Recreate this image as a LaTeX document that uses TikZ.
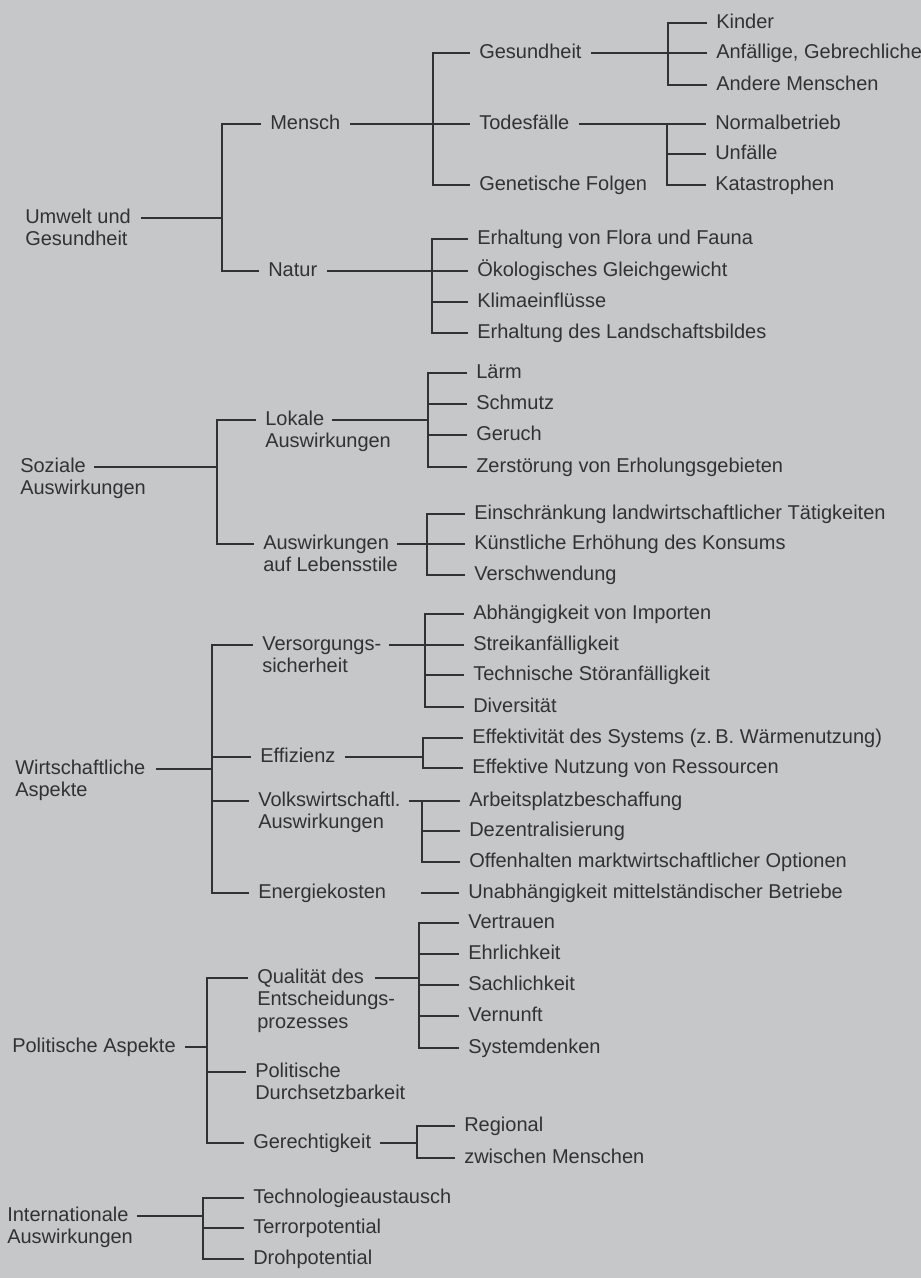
\documentclass[tikz,border=0pt]{standalone}
\usepackage{fontspec}
\setmainfont{Liberation Sans}
\definecolor{paper}{RGB}{197,199,201}
\definecolor{ink}{RGB}{50,50,52}
\newcommand{\lblfont}{\fontsize{15}{17}\selectfont}
\begin{document}
\begin{tikzpicture}[x=0.75pt,y=-0.75pt,
  lbl/.style={font=\lblfont, text=ink, inner xsep=7.5pt, inner ysep=0pt, text height=10.8pt, text depth=3pt, anchor=base west},
  ml/.style={font=\lblfont, text=ink, inner xsep=7.5pt, inner ysep=0pt, align=left, anchor=base west},
  wire/.style={draw=ink, line width=1.35pt, line cap=rect}]
\fill[paper] (0,0) rectangle (921,1278);
\useasboundingbox (0,0) rectangle (921,1278);

% ---------- roots (multi-line nodes: base = baseline of last line)
\node[ml] (umw) at (15,245.67) {Umwelt und\\Gesundheit};
\node[ml] (soz) at (10,494.67) {Soziale\\Auswirkungen};
\node[ml] (wir) at (5,796.67) {Wirtschaftliche\\Aspekte};
\node[lbl] (pol) at (2,1052) {Politische Aspekte};
\node[ml] (int) at (-3,1243.67) {Internationale\\Auswirkungen};
\coordinate (umwR) at (142,218);
\coordinate (sozR) at (95,467);
\coordinate (wirR) at (157,769);
\coordinate (intR) at (138,1216);

% ---------- level 1
\node[lbl] (mensch) at (260,129) {Mensch};
\node[lbl] (natur) at (258,276) {Natur};
\node[ml] (lokale) at (255,447.67) {Lokale\\Auswirkungen};
\node[ml] (lebens) at (253,571.67) {Auswirkungen\\auf Lebensstile};
\node[ml] (versorg) at (252,672.67) {Versorgungs-\\sicherheit};
\node[lbl] (effiz) at (250,762) {Effizienz};
\node[ml] (volksw) at (248,828.67) {Volkswirtschaftl.\\Auswirkungen};
\node[lbl] (energ) at (248,898) {Energiekosten};
\node[ml] (qual) at (247,1028.33) {Qualität des\\Entscheidungs-\\prozesses};
\node[ml] (polD) at (245,1099.67) {Politische\\Durchsetzbarkeit};
\node[lbl] (gerecht) at (243,1148) {Gerechtigkeit};
\node[lbl] (tech) at (243,1203) {Technologieaustausch};
\node[lbl] (terror) at (243,1233) {Terrorpotential};
\node[lbl] (droh) at (243,1264) {Drohpotential};
\coordinate (lokaleR) at (333,420);
\coordinate (lebensR) at (398,544);
\coordinate (versorgR) at (390,645);
\coordinate (volkswR) at (410,801);
\coordinate (qualR) at (376,978);
\coordinate (polDL) at (245,1072);
\coordinate (eS) at (422,893);

% ---------- level 2
\node[lbl] (ges) at (469,58) {Gesundheit};
\node[lbl] (tod) at (469,129) {Todesfälle};
\node[lbl] (genf) at (469,190) {Genetische Folgen};
\node[lbl] (flora) at (467,244) {Erhaltung von Flora und Fauna};
\node[lbl] (oeko) at (467,276) {Ökologisches Gleichgewicht};
\node[lbl] (klima) at (467,307) {Klimaeinflüsse};
\node[lbl] (land) at (467,338) {Erhaltung des Landschaftsbildes};
\node[lbl] (laerm) at (466,378) {Lärm};
\node[lbl] (schmutz) at (466,409) {Schmutz};
\node[lbl] (geruch) at (466,440) {Geruch};
\node[lbl] (zerst) at (466,472) {Zerstörung von Erholungsgebieten};
\node[lbl] (einschr) at (464,519) {Einschränkung landwirtschaftlicher Tätigkeiten};
\node[lbl] (kuenst) at (464,549) {Künstliche Erhöhung des Konsums};
\node[lbl] (versch) at (464,580) {Verschwendung};
\node[lbl] (abh) at (463,619) {Abhängigkeit von Importen};
\node[lbl] (streik) at (463,650) {Streikanfälligkeit};
\node[lbl] (techn) at (463,680) {Technische Störanfälligkeit};
\node[lbl] (divers) at (463,712) {Diversität};
\node[lbl] (effekt) at (462,743) {Effektivität des Systems (z.\,B. Wärmenutzung)};
\node[lbl] (effN) at (462,773) {Effektive Nutzung von Ressourcen};
\node[lbl] (arbeit) at (459,806) {Arbeitsplatzbeschaffung};
\node[lbl] (dezent) at (459,836) {Dezentralisierung};
\node[lbl] (offen) at (459,867) {Offenhalten marktwirtschaftlicher Optionen};
\node[lbl] (unab) at (458,898) {Unabhängigkeit mittelständischer Betriebe};
\node[lbl] (vertr) at (458,928) {Vertrauen};
\node[lbl] (ehrl) at (458,959) {Ehrlichkeit};
\node[lbl] (sachl) at (458,990) {Sachlichkeit};
\node[lbl] (vern) at (458,1021) {Vernunft};
\node[lbl] (syst) at (458,1053) {Systemdenken};
\node[lbl] (regional) at (454,1131) {Regional};
\node[lbl] (zwischen) at (454,1163) {zwischen Menschen};

% ---------- level 3
\node[lbl] (kinder) at (706,28) {Kinder};
\node[lbl] (anf) at (706,58) {Anfällige, Gebrechliche};
\node[lbl] (andere) at (706,90) {Andere Menschen};
\node[lbl] (normal) at (705,129) {Normalbetrieb};
\node[lbl] (unf) at (705,159) {Unfälle};
\node[lbl] (kata) at (705,190) {Katastrophen};

% ---------- junction columns
\coordinate (J1) at (222,0);
\coordinate (J2) at (217,0);
\coordinate (J3) at (212,0);
\coordinate (J4) at (207,0);
\coordinate (J5) at (203,0);
\coordinate (J6) at (433,0);
\coordinate (J7) at (432,0);
\coordinate (J8) at (428,0);
\coordinate (J9) at (427,0);
\coordinate (J10) at (425,0);
\coordinate (J11) at (423,0);
\coordinate (J12) at (422,0);
\coordinate (J13) at (419,0);
\coordinate (J14) at (417,0);
\coordinate (J15) at (668,0);
\coordinate (J16) at (667,0);

% ---------- Umwelt und Gesundheit
\draw[wire] (umwR) -- (umwR -| J1);
\draw[wire] (J1 |- mensch.west) -- (J1 |- natur.west);
\draw[wire] (J1 |- mensch.west) -- (mensch.west);
\draw[wire] (J1 |- natur.west) -- (natur.west);
% Mensch
\draw[wire] (mensch.east) -- (tod.west);
\draw[wire] (J6 |- ges.west) -- (J6 |- genf.west);
\draw[wire] (J6 |- ges.west) -- (ges.west);
\draw[wire] (J6 |- genf.west) -- (genf.west);
% Gesundheit
\draw[wire] (ges.east) -- (anf.west);
\draw[wire] (J15 |- kinder.west) -- (J15 |- andere.west);
\draw[wire] (J15 |- kinder.west) -- (kinder.west);
\draw[wire] (J15 |- andere.west) -- (andere.west);
% Todesfaelle
\draw[wire] (tod.east) -- (normal.west);
\draw[wire] (J16 |- normal.west) -- (J16 |- kata.west);
\draw[wire] (J16 |- unf.west) -- (unf.west);
\draw[wire] (J16 |- kata.west) -- (kata.west);
% Natur
\draw[wire] (natur.east) -- (oeko.west);
\draw[wire] (J7 |- flora.west) -- (J7 |- land.west);
\draw[wire] (J7 |- flora.west) -- (flora.west);
\draw[wire] (J7 |- klima.west) -- (klima.west);
\draw[wire] (J7 |- land.west) -- (land.west);

% ---------- Soziale Auswirkungen
\draw[wire] (sozR) -- (sozR -| J2);
\draw[wire] (J2 |- lokaleR) -- (J2 |- lebensR);
\draw[wire] (J2 |- lokaleR) -- (lokale.west |- lokaleR);
\draw[wire] (J2 |- lebensR) -- (lebens.west |- lebensR);
% Lokale
\draw[wire] (lokaleR) -- (lokaleR -| J8);
\draw[wire] (J8 |- laerm.west) -- (J8 |- zerst.west);
\draw[wire] (J8 |- laerm.west) -- (laerm.west);
\draw[wire] (J8 |- schmutz.west) -- (schmutz.west);
\draw[wire] (J8 |- geruch.west) -- (geruch.west);
\draw[wire] (J8 |- zerst.west) -- (zerst.west);
% Lebensstile
\draw[wire] (lebensR) -- (lebensR -| kuenst.west);
\draw[wire] (J9 |- einschr.west) -- (J9 |- versch.west);
\draw[wire] (J9 |- einschr.west) -- (einschr.west);
\draw[wire] (J9 |- versch.west) -- (versch.west);

% ---------- Wirtschaftliche Aspekte
\draw[wire] (wirR) -- (wirR -| J3);
\draw[wire] (J3 |- versorgR) -- (J3 |- energ.west);
\draw[wire] (J3 |- versorgR) -- (versorg.west |- versorgR);
\draw[wire] (J3 |- effiz.west) -- (effiz.west);
\draw[wire] (J3 |- volkswR) -- (volksw.west |- volkswR);
\draw[wire] (J3 |- energ.west) -- (energ.west);
% Versorgung
\draw[wire] (versorgR) -- (versorgR -| streik.west);
\draw[wire] (J10 |- abh.west) -- (J10 |- divers.west);
\draw[wire] (J10 |- abh.west) -- (abh.west);
\draw[wire] (J10 |- techn.west) -- (techn.west);
\draw[wire] (J10 |- divers.west) -- (divers.west);
% Effizienz
\draw[wire] (effiz.east) -- (effiz.east -| J11);
\draw[wire] (J11 |- effekt.west) -- (J11 |- effN.west);
\draw[wire] (J11 |- effekt.west) -- (effekt.west);
\draw[wire] (J11 |- effN.west) -- (effN.west);
% Volkswirtschaft
\draw[wire] (volkswR) -- (volkswR -| arbeit.west);
\draw[wire] (J12 |- arbeit.west) -- (J12 |- offen.west);
\draw[wire] (J12 |- dezent.west) -- (dezent.west);
\draw[wire] (J12 |- offen.west) -- (offen.west);
% Energiekosten
\draw[wire] (eS) -- (eS -| unab.west);

% ---------- Politische Aspekte
\draw[wire] (pol.east) -- (pol.east -| J4);
\draw[wire] (J4 |- qualR) -- (J4 |- gerecht.west);
\draw[wire] (J4 |- qualR) -- (qual.west |- qualR);
\draw[wire] (J4 |- polDL) -- (polD.west |- polDL);
\draw[wire] (J4 |- gerecht.west) -- (gerecht.west);
% Qualitaet
\draw[wire] (qualR) -- (qualR -| J13);
\draw[wire] (J13 |- vertr.west) -- (J13 |- syst.west);
\draw[wire] (J13 |- vertr.west) -- (vertr.west);
\draw[wire] (J13 |- ehrl.west) -- (ehrl.west);
\draw[wire] (J13 |- sachl.west) -- (sachl.west);
\draw[wire] (J13 |- vern.west) -- (vern.west);
\draw[wire] (J13 |- syst.west) -- (syst.west);
% Gerechtigkeit
\draw[wire] (gerecht.east) -- (gerecht.east -| J14);
\draw[wire] (J14 |- regional.west) -- (J14 |- zwischen.west);
\draw[wire] (J14 |- regional.west) -- (regional.west);
\draw[wire] (J14 |- zwischen.west) -- (zwischen.west);

% ---------- Internationale Auswirkungen
\draw[wire] (intR) -- (intR -| J5);
\draw[wire] (J5 |- tech.west) -- (J5 |- droh.west);
\draw[wire] (J5 |- tech.west) -- (tech.west);
\draw[wire] (J5 |- terror.west) -- (terror.west);
\draw[wire] (J5 |- droh.west) -- (droh.west);
\end{tikzpicture}
\end{document}
